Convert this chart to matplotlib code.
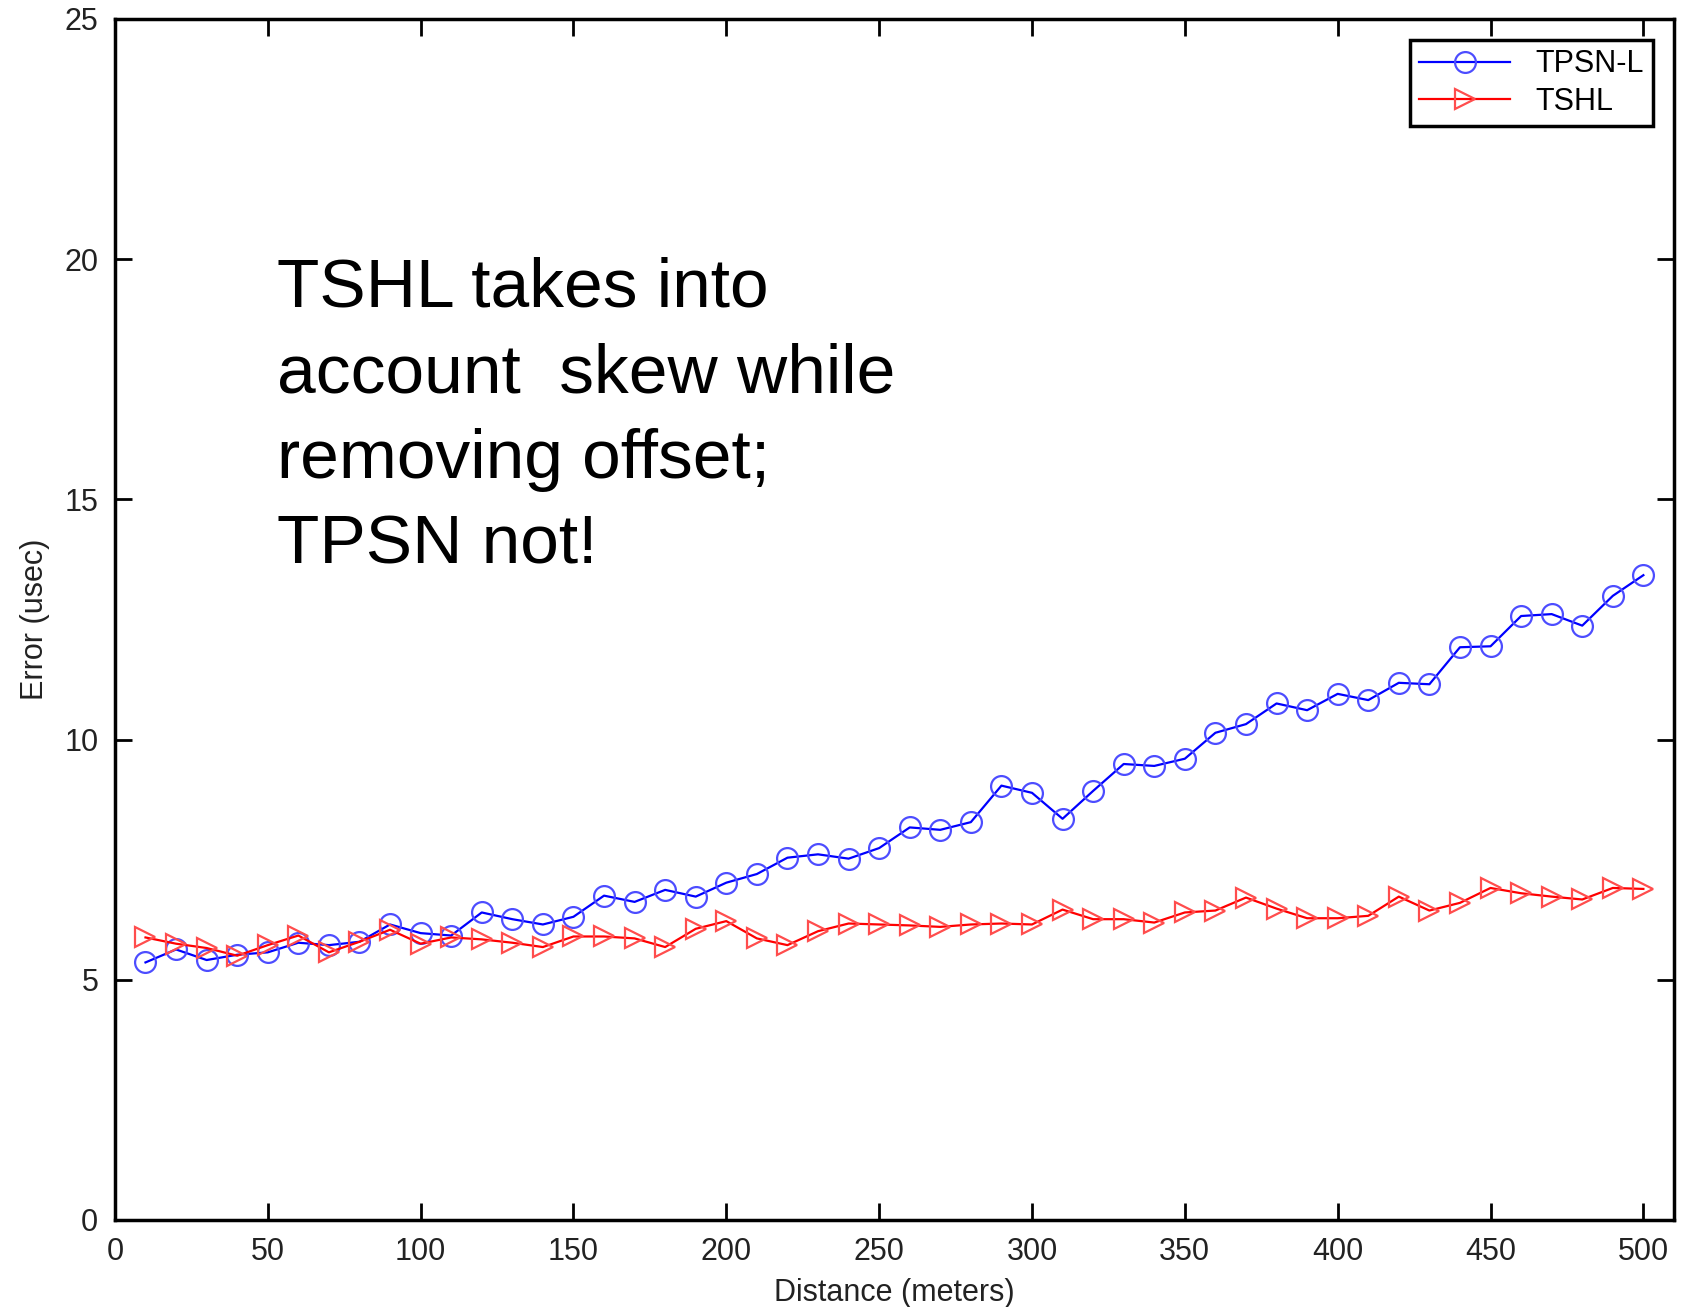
#!/usr/bin/env python
''' error vs distance, TPSN-L against TSHL '''
import matplotlib
matplotlib.use('Agg')
import matplotlib.pyplot as plt
import numpy as np

distance = np.arange(10, 501, 10)
tpsn_l = [5.36, 5.63, 5.41, 5.52, 5.57, 5.77, 5.72, 5.79, 6.15, 5.97,
          5.92, 6.40, 6.26, 6.15, 6.31, 6.75, 6.62, 6.87, 6.73, 7.02,
          7.20, 7.54, 7.61, 7.52, 7.74, 8.17, 8.12, 8.28, 9.04, 8.89,
          8.35, 8.93, 9.49, 9.45, 9.60, 10.14, 10.32, 10.75, 10.61, 10.95,
          10.82, 11.18, 11.15, 11.92, 11.94, 12.57, 12.61, 12.37, 12.99, 13.42]
tshl = [5.88, 5.75, 5.66, 5.50, 5.72, 5.92, 5.57, 5.79, 6.04, 5.75,
        5.88, 5.84, 5.77, 5.68, 5.90, 5.90, 5.86, 5.68, 6.06, 6.22,
        5.86, 5.72, 6.01, 6.17, 6.15, 6.13, 6.10, 6.15, 6.17, 6.15,
        6.46, 6.26, 6.26, 6.19, 6.40, 6.44, 6.71, 6.48, 6.28, 6.28,
        6.33, 6.73, 6.44, 6.60, 6.91, 6.80, 6.73, 6.67, 6.91, 6.89]
x_ticks = np.arange(0, 501, 50)
y_ticks = np.arange(0, 26, 5)

if __name__ == '__main__':
    plt.rcParams['font.family'] = ['Liberation Sans', 'DejaVu Sans']
    fig = plt.figure(figsize=(16.9, 13.07), dpi=100)
    ax = fig.add_axes([0.068, 0.0666, 0.9225, 0.919])

    ax.plot(distance, tpsn_l, '-', color='#0000ff', lw=1.6, marker='o',
            ms=15, mfc='none', mec='#4d4dff', mew=1.6, label='TPSN-L')
    ax.plot(distance, tshl, '-', color='#ff0000', lw=1.6, marker='>',
            ms=15, mfc='none', mec='#ff4d4d', mew=1.6, label='TSHL')

    ax.set_xlim(0, 510)
    ax.set_ylim(0, 25)
    ax.set_xticks(x_ticks)
    ax.set_yticks(y_ticks)
    ax.tick_params(direction='in', length=12, width=2, labelsize=22,
                   top=True, right=True, labelcolor='#222222', pad=12)
    for s in ax.spines.values():
        s.set_linewidth(2.5)

    ax.set_xlabel('Distance (meters)', fontsize=22, color='#222222', labelpad=8)
    ax.set_ylabel('Error (usec)', fontsize=22, color='#222222', labelpad=10)

    ax.text(53, 20.05, 'TSHL takes into\naccount  skew while\nremoving offset;\nTPSN not!',
            fontsize=50, va='top', ha='left', linespacing=1.43)

    leg = ax.legend(loc='upper right', fontsize=22, fancybox=False,
                    framealpha=1, edgecolor='black', borderaxespad=0.7,
                    handlelength=3.0, borderpad=0.3, labelspacing=0.25,
                    handletextpad=0.8)
    leg.get_frame().set_linewidth(2.5)

    plt.savefig('out.png')
